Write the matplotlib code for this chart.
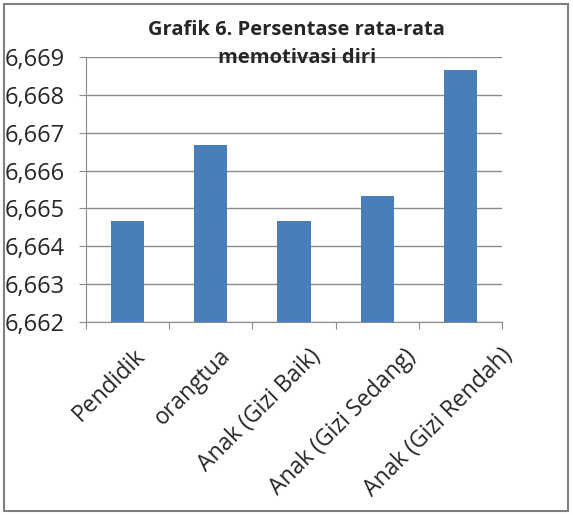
import numpy as np
import matplotlib.pyplot as plt
from matplotlib.ticker import FuncFormatter, FixedLocator, NullFormatter
from matplotlib.patches import Rectangle

plt.rcParams['font.family'] = ['Open Sans', 'DejaVu Sans']

kategori = ['Pendidik', 'orangtua', 'Anak (Gizi Baik)', 'Anak (Gizi Sedang)', 'Anak (Gizi Rendah)']
nilai = [6.66467, 6.66667, 6.66467, 6.66533, 6.66867]

judul = 'Grafik 6. Persentase rata-rata\nmemotivasi diri'
ymin, ymax = 6.662, 6.669

# geser ujung label miring (piksel ke kanan dari tengah kategori)
geser_label = [6, 8, 15, 27, 40]

fig = plt.figure(figsize=(5.73, 5.15), dpi=100)
ax = fig.add_axes([0.150, 0.375, 0.726, 0.514])

x = np.arange(len(kategori))
ax.bar(x, np.array(nilai) - ymin, bottom=ymin, width=0.4, color='#4a7ebb', zorder=3)

ax.set_xlim(-0.5, len(kategori) - 0.5)
ax.set_ylim(ymin, ymax)
ax.set_yticks(np.arange(6.662, 6.6695, 0.001))
ax.yaxis.set_major_formatter(FuncFormatter(lambda v, p: f'{v:.3f}'.replace('.', ',')))
ax.grid(axis='y', color='#8c8c8c', linewidth=1, zorder=0)

# tick di antara kategori
ax.xaxis.set_major_locator(FixedLocator(np.arange(-0.5, len(kategori), 1.0)))
ax.xaxis.set_major_formatter(NullFormatter())
ax.tick_params(axis='x', length=5, color='#8c8c8c', direction='out')
ax.tick_params(axis='y', length=5, color='#8c8c8c', labelsize=17, labelcolor='#262626', pad=10)

for i, lab in enumerate(kategori):
    ax.annotate(lab, xy=(i, 0), xycoords=ax.get_xaxis_transform(),
                xytext=(geser_label[i], -22), textcoords='offset pixels',
                rotation=45, ha='right', va='top', rotation_mode='anchor',
                fontsize=16.5, color='#262626')

for s in ['top', 'right']:
    ax.spines[s].set_visible(False)
for s in ['left', 'bottom']:
    ax.spines[s].set_color('#8c8c8c')

fig.text(0.518, 0.962, judul, ha='center', va='top', fontsize=14.5, fontweight='bold',
         color='#262626', linespacing=1.55)

fig.patches.append(Rectangle((0.007, 0.008), 0.985, 0.984, transform=fig.transFigure,
                             fill=False, edgecolor='#808080', linewidth=1.5))

fig.savefig('out.png', dpi=100)
